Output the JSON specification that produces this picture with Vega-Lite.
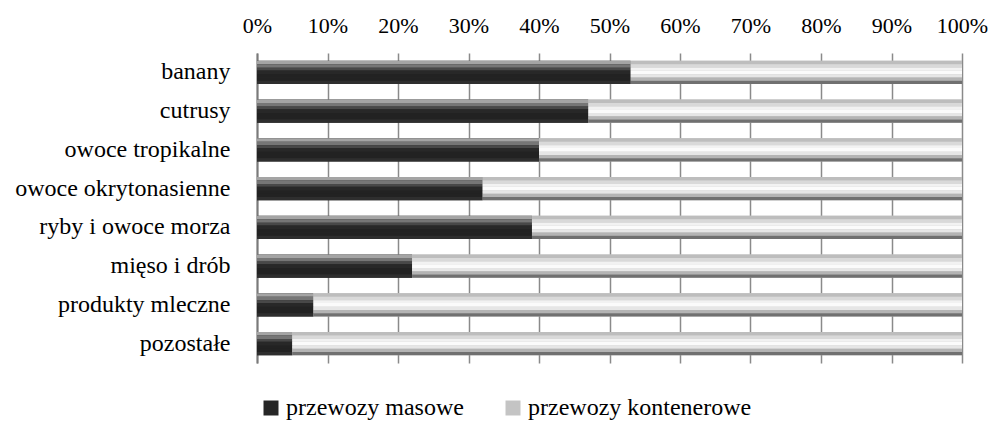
{
  "$schema": "https://vega.github.io/schema/vega-lite/v6.json",
  "width": 705,
  "height": 310,
  "autosize": "none",
  "padding": {"left": 257, "top": 53, "right": 26, "bottom": 65},
  "background": "#ffffff",
  "config": {
    "font": "Liberation Serif",
    "axis": {"labelFont": "Liberation Serif"},
    "legend": {"labelFont": "Liberation Serif", "padding": 0},
    "view": {"stroke": null}
  },
  "data": {
    "values": [
      {"kategoria": "banany", "seria": "przewozy masowe", "udzial": 53},
      {"kategoria": "banany", "seria": "przewozy kontenerowe", "udzial": 47},
      {"kategoria": "cutrusy", "seria": "przewozy masowe", "udzial": 47},
      {"kategoria": "cutrusy", "seria": "przewozy kontenerowe", "udzial": 53},
      {"kategoria": "owoce tropikalne", "seria": "przewozy masowe", "udzial": 40},
      {"kategoria": "owoce tropikalne", "seria": "przewozy kontenerowe", "udzial": 60},
      {"kategoria": "owoce okrytonasienne", "seria": "przewozy masowe", "udzial": 32},
      {"kategoria": "owoce okrytonasienne", "seria": "przewozy kontenerowe", "udzial": 68},
      {"kategoria": "ryby i owoce morza", "seria": "przewozy masowe", "udzial": 39},
      {"kategoria": "ryby i owoce morza", "seria": "przewozy kontenerowe", "udzial": 61},
      {"kategoria": "mięso i drób", "seria": "przewozy masowe", "udzial": 22},
      {"kategoria": "mięso i drób", "seria": "przewozy kontenerowe", "udzial": 78},
      {"kategoria": "produkty mleczne", "seria": "przewozy masowe", "udzial": 8},
      {"kategoria": "produkty mleczne", "seria": "przewozy kontenerowe", "udzial": 92},
      {"kategoria": "pozostałe", "seria": "przewozy masowe", "udzial": 5},
      {"kategoria": "pozostałe", "seria": "przewozy kontenerowe", "udzial": 95}
    ]
  },
  "transform": [
    {
      "stack": "udzial",
      "groupby": ["kategoria"],
      "sort": [{"field": "seria", "order": "descending"}],
      "offset": "normalize",
      "as": ["x0", "x1"]
    }
  ],
  "encoding": {
    "y": {
      "field": "kategoria",
      "type": "nominal",
      "sort": null,
      "scale": {"paddingInner": 0.4, "paddingOuter": 0.2},
      "axis": {
        "title": null,
        "labelFont": "Liberation Serif",
        "labelFontSize": 24,
        "labelColor": "#000000",
        "labelPadding": 27,
        "ticks": false,
        "tickSize": 0,
        "labelLimit": 400,
        "domainColor": "#7a7a7a",
        "domainWidth": 2,
        "grid": false
      }
    },
    "x": {
      "field": "x0",
      "type": "quantitative",
      "scale": {"domain": [0, 1], "nice": false},
      "axis": {
        "orient": "top",
        "title": null,
        "format": ".0%",
        "values": [0, 0.1, 0.2, 0.3, 0.4, 0.5, 0.6, 0.7, 0.8, 0.9, 1],
        "labelFont": "Liberation Serif",
        "labelFontSize": 22,
        "labelColor": "#000000",
        "labelBaseline": "alphabetic",
        "labelPadding": 21,
        "labelFlush": false,
        "ticks": false,
        "tickSize": 0,
        "domain": false,
        "grid": true,
        "gridColor": "#8a8a8a",
        "gridWidth": 1.5,
        "gridOpacity": 1
      }
    },
    "x2": {"field": "x1"}
  },
  "layer": [
    {
      "mark": {"type": "bar", "strokeWidth": 0},
      "encoding": {
        "color": {
          "field": "seria",
          "type": "nominal",
          "scale": {
            "domain": ["przewozy masowe", "przewozy kontenerowe"],
            "range": ["#262626", "#c4c4c4"]
          },
          "legend": {
            "title": null,
            "orient": "none",
            "legendX": 2,
            "legendY": 343,
            "direction": "horizontal",
            "symbolType": "square",
            "symbolSize": 225,
            "symbolStrokeWidth": 0,
            "symbolOpacity": 1,
            "labelFont": "Liberation Serif",
            "labelFontSize": 24,
            "labelColor": "#000000",
            "labelOffset": 3,
            "labelLimit": 400,
            "columnPadding": 37
          }
        }
      }
    },
    {
      "mark": {"type": "bar", "strokeWidth": 0, "height": {"band": 0.15}, "yOffset": -9.88},
      "encoding": {"color": {"condition": {"test": "datum.seria === 'przewozy masowe'", "value": "#a4a4a4"}, "value": "#bdbdbd"}}
    },
    {
      "mark": {"type": "bar", "strokeWidth": 0, "height": {"band": 0.15}, "yOffset": -6.39},
      "encoding": {"color": {"condition": {"test": "datum.seria === 'przewozy masowe'", "value": "#767676"}, "value": "#d9d9d9"}}
    },
    {
      "mark": {"type": "bar", "strokeWidth": 0, "height": {"band": 0.12}, "yOffset": -3.26},
      "encoding": {"color": {"condition": {"test": "datum.seria === 'przewozy masowe'", "value": "#484848"}, "value": "#f2f2f2"}}
    },
    {
      "mark": {"type": "bar", "strokeWidth": 0, "height": {"band": 0.16}, "yOffset": 0},
      "encoding": {"color": {"condition": {"test": "datum.seria === 'przewozy masowe'", "value": "#282828"}, "value": "#fbfbfb"}}
    },
    {
      "mark": {"type": "bar", "strokeWidth": 0, "height": {"band": 0.14}, "yOffset": 3.49},
      "encoding": {"color": {"condition": {"test": "datum.seria === 'przewozy masowe'", "value": "#222222"}, "value": "#e6e6e6"}}
    },
    {
      "mark": {"type": "bar", "strokeWidth": 0, "height": {"band": 0.14}, "yOffset": 6.74},
      "encoding": {"color": {"condition": {"test": "datum.seria === 'przewozy masowe'", "value": "#222222"}, "value": "#b4b4b4"}}
    },
    {
      "mark": {"type": "bar", "strokeWidth": 0, "height": {"band": 0.14}, "yOffset": 9.99},
      "encoding": {"color": {"condition": {"test": "datum.seria === 'przewozy masowe'", "value": "#2e2e2e"}, "value": "#707070"}}
    }
  ]
}
